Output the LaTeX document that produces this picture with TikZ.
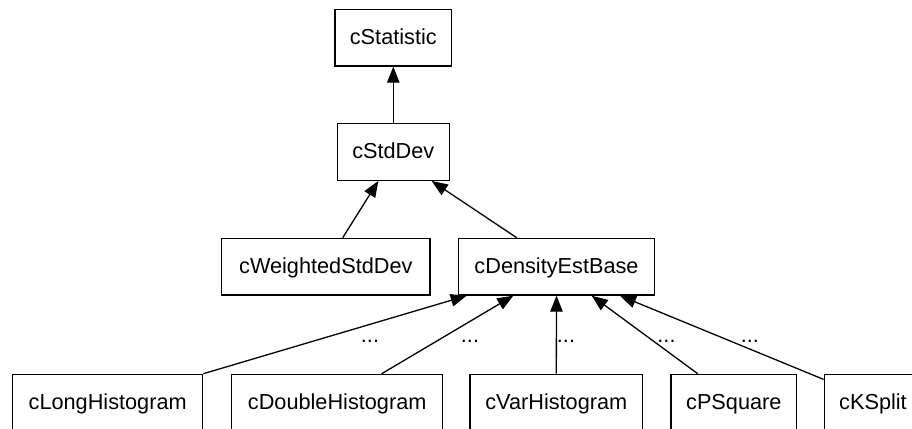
\documentclass[tikz,border=0pt]{standalone}
\usepackage{fontspec}
\setmainfont{Liberation Sans}
\usetikzlibrary{arrows.meta}

\begin{document}
\begin{tikzpicture}[x=1pt, y=-1pt,
  cls/.style={draw, line width=1.3pt, inner sep=0pt, minimum height=56.7pt,
    text height=15.5pt, text depth=2.3pt, font=\fontsize{21.7}{26}\selectfont},
  dots/.style={inner sep=0pt, anchor=base, font=\fontsize{21.7}{26}\selectfont},
  inherit/.style={line width=1.3pt, -{Triangle[length=16pt, width=12.5pt]}}]
  \useasboundingbox (0,0) rectangle (912,428);
  \clip (0,0) rectangle (912,428);

  % class boxes
  \node[cls, minimum width=116.7pt] (stat) at (393.3,37.7) {cStatistic};
  \node[cls, minimum width=112pt] (std) at (393.3,152) {cStdDev};
  \node[cls, minimum width=208.3pt] (wstd) at (325.8,266.7) {cWeightedStdDev};
  \node[cls, minimum width=195.6pt] (dens) at (556.5,266.7) {cDensityEstBase};
  \node[cls, minimum width=190pt] (longh) at (107.7,402.7) {cLongHistogram};
  \node[cls, minimum width=211pt] (dblh) at (337.2,402.7) {cDoubleHistogram};
  \node[cls, minimum width=172.7pt] (varh) at (556.3,402.7) {cVarHistogram};
  \node[cls, minimum width=125.7pt] (psq) at (733.8,402.7) {cPSquare};
  \node[cls, minimum width=97.5pt] (ks) at (873,402.7) {cKSplit};

  % inheritance arrows
  \draw[inherit] (std.north) -- (stat.south);
  \draw[inherit] ([xshift=16.9pt]wstd.north) -- ([xshift=-15pt]std.south);
  \draw[inherit] ([xshift=-39.8pt]dens.north) -- ([xshift=38.4pt]std.south);
  \draw[inherit] (longh.north east) -- ([xshift=-89.8pt]dens.south);
  \draw[inherit] ([xshift=44.5pt]dblh.north) -- ([xshift=-43.2pt]dens.south);
  \draw[inherit] (varh.north) -- (dens.south);
  \draw[inherit] ([xshift=-36.1pt]psq.north) -- ([xshift=35.2pt]dens.south);
  \draw[inherit] ([yshift=-5.7pt]ks.north west) -- ([xshift=63.5pt]dens.south);

  % edge labels
  \node[dots] (l1) at (370,342) {...};
  \node[dots] (l2) at (470,342) {...};
  \node[dots] (l3) at (566,342) {...};
  \node[dots] (l4) at (666.5,342) {...};
  \node[dots] (l5) at (749.8,342) {...};
\end{tikzpicture}
\end{document}
